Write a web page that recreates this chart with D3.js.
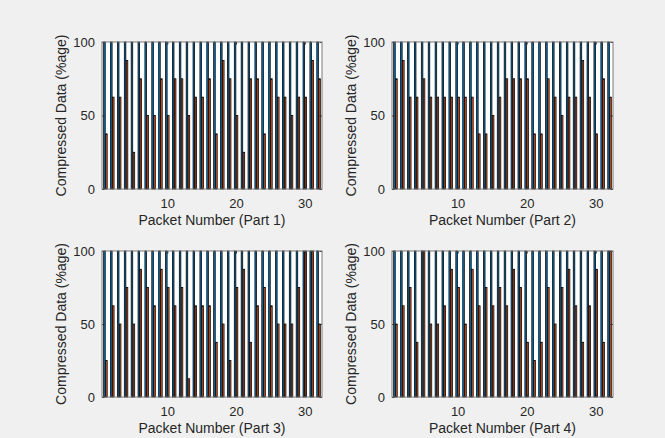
<!DOCTYPE html>
<html>
<head>
<meta charset="utf-8">
<script src="https://cdn.jsdelivr.net/npm/d3@7"></script>
<style>
  body { margin: 0; background: #f0f0f0; }
  svg { display: block; font-family: "Liberation Sans", Arial, sans-serif; }
</style>
</head>
<body>
<svg id="chart"></svg>
<script>
// Figure size
const W = 665, H = 438;

// Packet numbers on the x axis
const packets = [1, 2, 3, 4, 5, 6, 7, 8, 9, 10, 11, 12, 13, 14, 15, 16,
                 17, 18, 19, 20, 21, 22, 23, 24, 25, 26, 27, 28, 29, 30, 31, 32];

// Original (uncompressed) size, always 100 %
const original = [100, 100, 100, 100, 100, 100, 100, 100, 100, 100, 100, 100, 100, 100, 100, 100,
                  100, 100, 100, 100, 100, 100, 100, 100, 100, 100, 100, 100, 100, 100, 100, 100];

// Compressed size per packet, one array per part
const part1 = [37.5, 62.5, 62.5, 87.5, 25, 75, 50, 50, 75, 50, 75, 75, 50, 62.5, 62.5, 75,
               37.5, 87.5, 75, 50, 25, 75, 75, 37.5, 75, 62.5, 62.5, 50, 62.5, 62.5, 87.5, 75];
const part2 = [75, 87.5, 62.5, 62.5, 75, 62.5, 62.5, 62.5, 62.5, 62.5, 62.5, 62.5, 37.5, 37.5, 50, 62.5,
               75, 75, 75, 75, 37.5, 37.5, 75, 62.5, 50, 62.5, 62.5, 87.5, 62.5, 37.5, 75, 62.5];
const part3 = [25, 62.5, 50, 75, 50, 87.5, 75, 62.5, 87.5, 75, 62.5, 75, 12.5, 62.5, 62.5, 62.5,
               37.5, 50, 25, 75, 87.5, 37.5, 62.5, 75, 62.5, 50, 50, 50, 75, 100, 100, 50];
const part4 = [50, 62.5, 75, 37.5, 100, 50, 50, 62.5, 87.5, 75, 50, 87.5, 62.5, 75, 62.5, 75,
               62.5, 87.5, 75, 37.5, 25, 37.5, 75, 50, 75, 87.5, 62.5, 37.5, 62.5, 87.5, 37.5, 100];

const xLabels = ["Packet Number (Part 1)", "Packet Number (Part 2)",
                 "Packet Number (Part 3)", "Packet Number (Part 4)"];
const yLabel = "Compressed Data (%age)";
const xTicks = [10, 20, 30];
const yTicks = [0, 50, 100];

const panels = [
  { left: 102, top: 42, width: 220, height: 147, values: part1, label: xLabels[0] },
  { left: 392, top: 42, width: 221, height: 147, values: part2, label: xLabels[1] },
  { left: 102, top: 251, width: 220, height: 146, values: part3, label: xLabels[2] },
  { left: 392, top: 251, width: 221, height: 146, values: part4, label: xLabels[3] }
];

const blue = "#0072BD";
const red = "#D95319";
const textColor = "#262626";

const svg = d3.select("#chart")
    .attr("width", W)
    .attr("height", H);

svg.append("rect")
    .attr("width", W)
    .attr("height", H)
    .attr("fill", "#f0f0f0");

// grouped bar geometry (2 series, MATLAB style)
const groupWidth = 2 / 3.5;
const barW = groupWidth / 2 * 0.8;
const offsets = [-groupWidth / 4, groupWidth / 4];

panels.forEach(function(p) {
    const g = svg.append("g")
        .attr("transform", `translate(${p.left},${p.top})`);

    const x = d3.scaleLinear().domain([0.5, 32.5]).range([0, p.width]);
    const y = d3.scaleLinear().domain([0, 100]).range([p.height, 0]);

    // white plot area
    g.append("rect")
        .attr("width", p.width)
        .attr("height", p.height)
        .attr("fill", "#fff");

    const bw = x(barW) - x(0);
    const series = [original, p.values];
    const colors = [blue, red];

    series.forEach(function(vals, s) {
        g.selectAll(".bar" + s)
            .data(packets)
            .enter()
            .append("rect")
            .attr("x", d => x(d + offsets[s]) - bw / 2)
            .attr("y", (d, i) => y(vals[i]))
            .attr("width", bw)
            .attr("height", (d, i) => y(0) - y(vals[i]))
            .attr("fill", colors[s])
            .attr("stroke", "#000")
            .attr("stroke-width", 0.75);
    });

    // axes with inward ticks
    const tl = 2.5;
    g.append("g")
        .attr("transform", `translate(0,${p.height})`)
        .call(d3.axisBottom(x).tickValues(xTicks).tickSizeInner(-tl).tickSizeOuter(0).tickPadding(10));
    g.append("g")
        .call(d3.axisLeft(y).tickValues(yTicks).tickSizeInner(-tl).tickSizeOuter(0).tickPadding(7));
    // mirrored ticks on top and right
    g.append("g")
        .call(d3.axisTop(x).tickValues(xTicks).tickSizeInner(-tl).tickSizeOuter(0).tickFormat(""));
    g.append("g")
        .attr("transform", `translate(${p.width},0)`)
        .call(d3.axisRight(y).tickValues(yTicks).tickSizeInner(-tl).tickSizeOuter(0).tickFormat(""));

    g.selectAll(".domain").remove();
    g.selectAll(".tick line").attr("stroke", textColor);
    g.selectAll(".tick text")
        .attr("fill", textColor)
        .style("font-size", "13px")
        .style("font-family", "'Liberation Sans', Arial, sans-serif");

    // box outline
    g.append("rect")
        .attr("width", p.width)
        .attr("height", p.height)
        .attr("fill", "none")
        .attr("stroke", "#7a7a7a")
        .attr("stroke-width", 1);

    // axis labels
    g.append("text")
        .attr("x", p.width / 2)
        .attr("y", p.height + 36)
        .style("text-anchor", "middle")
        .style("font-size", "14px")
        .attr("fill", textColor)
        .text(p.label);
    g.append("text")
        .attr("transform", "rotate(-90)")
        .attr("x", -p.height / 2)
        .attr("y", -36)
        .style("text-anchor", "middle")
        .style("font-size", "14px")
        .attr("fill", textColor)
        .text(yLabel);
});
</script>
</body>
</html>
